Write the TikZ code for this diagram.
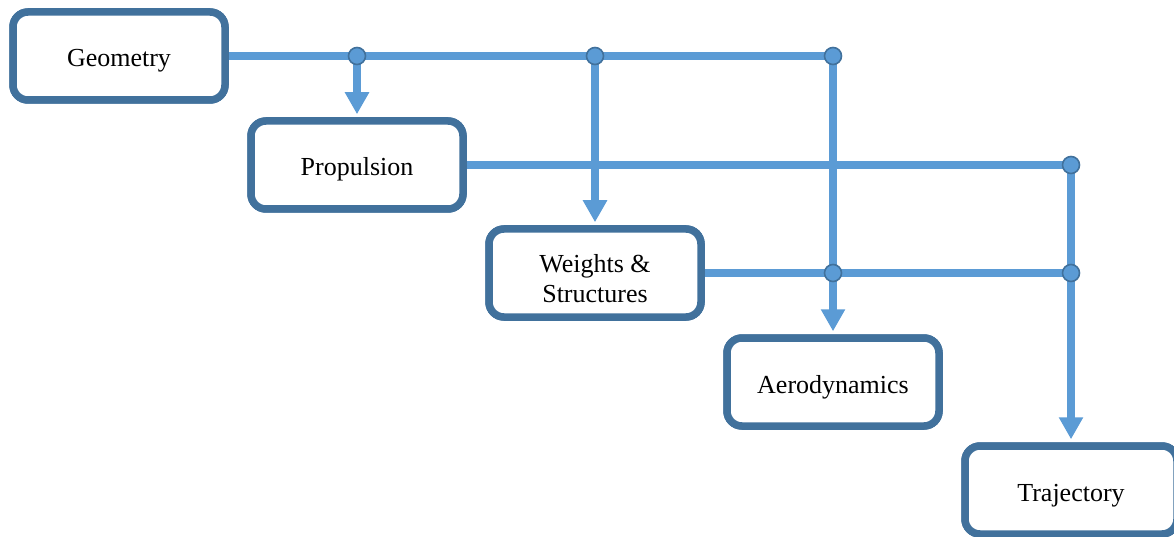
\documentclass[tikz,border=0pt]{standalone}
\usepackage{fontspec}
\setmainfont{Liberation Serif}
\usetikzlibrary{arrows.meta}
\definecolor{boxc}{HTML}{41719C}
\definecolor{linec}{HTML}{5B9BD5}
\newcommand\lowtxt[1]{\raisebox{-5pt}[\height][\depth]{\begin{tabular}{@{}c@{}}#1\end{tabular}}}
\tikzset{
  blk/.style={draw=boxc, line width=7.5pt, rounded corners=15pt, fill=white,
    minimum width=212pt, minimum height=88pt, inner sep=0pt, align=center,
    font=\fontsize{26}{30}\selectfont},
  conn/.style={draw=linec, line width=8pt},
  arr/.style={conn, -{Triangle[width=23pt,length=22pt]}, shorten >=3pt},
  jdot/.style={circle, fill=linec, draw=boxc, line width=1.6pt, minimum size=17pt, inner sep=0pt}
}
\begin{document}
\begin{tikzpicture}[x=1pt,y=-1pt]
\useasboundingbox (0,0) rectangle (1174,537);
\clip (0,0) rectangle (1174,537);
% box positions
\coordinate (pgeo) at (119,56);
\coordinate (pprop) at (357,165);
\coordinate (pweig) at (595,273);
\coordinate (paero) at (833,382);
\coordinate (ptraj) at (1071,490);
% junctions
\coordinate (j1) at (357,56);
\coordinate (j2) at (595,56);
\coordinate (j3) at (833,56);
\coordinate (j4) at (1071,165);
\coordinate (j5) at (833,273);
\coordinate (j6) at (1071,273);
% boxes (placed for anchors)
\node[blk] (geo) at (pgeo) {\lowtxt{Geometry}};
\node[blk] (prop) at (pprop) {\lowtxt{Propulsion}};
\node[blk] (weig) at (pweig) {\raisebox{-8pt}[\height][\depth]{\begin{tabular}{@{}c@{}}Weights \&\\Structures\end{tabular}}};
\node[blk] (aero) at (paero) {\lowtxt{Aerodynamics}};
\node[blk] (traj) at (ptraj) {\lowtxt{Trajectory}};
% connectors
\draw[conn] (geo.east) -- (j3);
\draw[conn] (prop.east) -- (j4);
\draw[conn] (weig.east) -- (j6);
\draw[arr] (j1) -- (prop.north);
\draw[arr] (j2) -- (weig.north);
\draw[arr] (j3) -- (aero.north);
\draw[arr] (j4) -- (traj.north);
% redraw boxes over line starts
\node[blk] at (pgeo) {\lowtxt{Geometry}};
\node[blk] at (pprop) {\lowtxt{Propulsion}};
\node[blk] at (pweig) {\raisebox{-8pt}[\height][\depth]{\begin{tabular}{@{}c@{}}Weights \&\\Structures\end{tabular}}};
\node[blk] at (paero) {\lowtxt{Aerodynamics}};
\node[blk] at (ptraj) {\lowtxt{Trajectory}};
% junction dots
\node[jdot] (dj1) at (j1) {};
\node[jdot] (dj2) at (j2) {};
\node[jdot] (dj3) at (j3) {};
\node[jdot] (dj4) at (j4) {};
\node[jdot] (dj5) at (j5) {};
\node[jdot] (dj6) at (j6) {};
\end{tikzpicture}
\end{document}
